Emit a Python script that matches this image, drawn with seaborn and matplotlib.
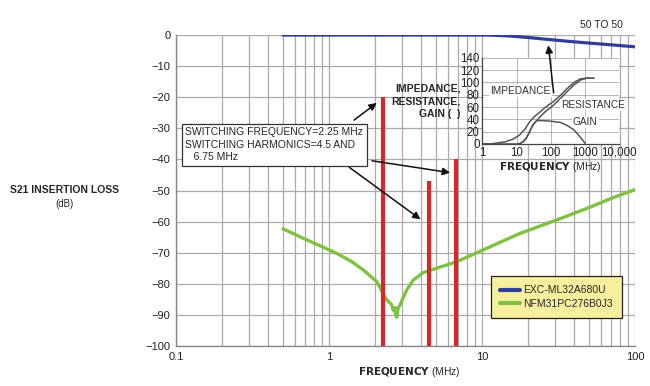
import numpy as np
import matplotlib
matplotlib.use("Agg")
import matplotlib.pyplot as plt
from matplotlib.ticker import LogLocator, FixedLocator, NullFormatter
import seaborn as sns

sns.set_style("white")
plt.rcParams['font.family'] = ['Liberation Sans', 'DejaVu Sans']

# main chart data (MHz, dB)
blue_f = [0.5, 1, 2, 5, 8, 11, 15, 20, 28, 40, 60, 80, 100]
blue_db = [0, 0, 0, 0, 0, 0, -0.3, -0.8, -1.5, -2.2, -2.9, -3.4, -3.8]

green_f = [0.5, 0.68, 0.85, 1.12, 1.4, 1.68, 2.05, 2.38, 2.55, 2.63, 2.7, 2.72,
           2.77, 2.82, 2.91, 3.05, 3.22, 3.55, 4.13, 5.05, 6.83, 10.7, 17.7,
           30.6, 50, 70, 100]
green_db = [-62.3, -65.4, -67.5, -70.2, -72.8, -75.6, -79.3, -85.2, -86.5, -88.5,
            -87.6, -89.8, -90.8, -88.0, -86.8, -84.5, -82.0, -78.8, -76.4, -75.0,
            -72.9, -68.6, -63.8, -59.5, -55.5, -52.5, -49.7]

sw_f = [2.25, 4.5, 6.75]
sw_top = [-20, -47, -40]

series_names = ["EXC-ML32A680U", "NFM31PC276B0J3"]

# inset data (MHz, ohm)
imp_f = [1, 2, 4.9, 8, 12.2, 18, 24, 34, 48, 70, 118, 190, 295, 470, 730, 1100, 1800]
imp_v = [0, 0.5, 3.8, 8, 14.6, 25, 36, 45, 52, 60, 69, 79, 90, 100, 106, 107, 107]
res_f = [1, 5, 10, 12.2, 15, 19, 24, 30, 48, 70, 118, 190, 295, 470, 730, 1100, 1800]
res_v = [0, 0, 0, 0.5, 3, 9, 20, 31, 44, 53, 63, 74, 85, 96, 104, 107, 107]
gain_f = [12.2, 15, 19, 24, 30, 38, 60, 100, 190, 300, 470, 700, 1000]
gain_v = [0.5, 3, 9, 20, 31, 38, 38, 37, 35, 30, 23, 12, 1]

blue = "#2f3f97"
green = "#7dc242"
red = "#d9262b"
grid_c = "#aaaaaa"

fig = plt.figure(figsize=(6.5, 3.86), dpi=100)
ax = fig.add_axes([0.2708, 0.1036, 0.7062, 0.8057])

sns.lineplot(x=blue_f, y=blue_db, ax=ax, color=blue, lw=2.3, label=series_names[0])
sns.lineplot(x=green_f, y=green_db, ax=ax, color=green, lw=2.4, label=series_names[1])
ax.vlines(sw_f, -100, sw_top, color=red, lw=3, zorder=3)

ax.set_xscale("log")
ax.set_xlim(0.1, 100)
ax.set_ylim(-100, 0)
ax.set_yticks(np.arange(-100, 1, 10))
ax.xaxis.set_major_locator(FixedLocator([0.1, 1, 10, 100]))
ax.set_xticklabels(["0.1", "1", "10", "100"])
ax.xaxis.set_minor_locator(LogLocator(base=10, subs=np.arange(2, 10)))
ax.xaxis.set_minor_formatter(NullFormatter())
ax.grid(True, which="both", color=grid_c, lw=0.9)
ax.tick_params(axis="both", which="both", length=0, labelsize=8, pad=4, colors="#222")
for s in ["top", "right"]:
    ax.spines[s].set_visible(False)
for s in ["left", "bottom"]:
    ax.spines[s].set_color("#888")
    ax.spines[s].set_linewidth(1)
ax.set_xlabel("")
ax.set_ylabel("")

fig.text(0.63, 0.035, r"$\bf{FREQUENCY}$ (MHz)", ha="center", va="center", fontsize=7.5)
fig.text(0.1, 0.508, "S21 INSERTION LOSS", ha="center", va="center", fontsize=7.5, weight="bold")
fig.text(0.1, 0.472, "(dB)", ha="center", va="center", fontsize=7)
fig.text(0.925, 0.935, "50 TO 50", ha="center", va="center", fontsize=7.5)

leg = ax.legend(loc="lower right", bbox_to_anchor=(0.983, 0.072), fontsize=7.5,
                frameon=True, fancybox=False, handlelength=1.9, borderpad=0.9,
                labelspacing=0.35, handletextpad=0.3)
leg.get_frame().set_facecolor("#f8ef9e")
leg.get_frame().set_edgecolor("#222")
leg.get_frame().set_alpha(1)
leg.get_frame().set_linewidth(0.9)
for line in leg.get_lines():
    line.set_linewidth(3)

ax.text(0.115, -35.3, "SWITCHING FREQUENCY=2.25 MHz\nSWITCHING HARMONICS=4.5 AND\n   6.75 MHz",
        ha="left", va="center", fontsize=7.5, linespacing=1.3, zorder=5,
        bbox=dict(boxstyle="square,pad=0.35", fc="white", ec="#333", lw=0.9))
arrow = dict(arrowstyle="-|>", color="#111", lw=1.1, mutation_scale=11)
ax.annotate("", xy=(2.12, -21.3), xytext=(1.41, -27.9), arrowprops=arrow, zorder=6)
ax.annotate("", xy=(6.45, -44.4), xytext=(1.83, -40.3), arrowprops=arrow, zorder=6)
ax.annotate("", xy=(4.1, -59.8), xytext=(1.31, -42.0), arrowprops=arrow, zorder=6)

fig.text(0.709, 0.738, "IMPEDANCE,\nRESISTANCE,\nGAIN (  )", ha="right", va="center",
         fontsize=7.5, weight="bold", linespacing=1.35)

# inset
ax_in = fig.add_axes([0.742, 0.627, 0.211, 0.223])
ax_in.set_facecolor("white")
sns.lineplot(x=imp_f, y=imp_v, ax=ax_in, color="#555", lw=1.1)
sns.lineplot(x=res_f, y=res_v, ax=ax_in, color="#555", lw=1.1)
sns.lineplot(x=gain_f, y=gain_v, ax=ax_in, color="#555", lw=1.1)
ax_in.set_xscale("log")
ax_in.set_xlim(1, 10000)
ax_in.set_ylim(0, 140)
ax_in.set_yticks(np.arange(0, 141, 20))
ax_in.xaxis.set_major_locator(FixedLocator([1, 10, 100, 1000, 10000]))
ax_in.set_xticklabels(["1", "10", "100", "1000", "10,000"])
ax_in.xaxis.set_minor_locator(LogLocator(base=10, subs=np.arange(1.0, 10.0, 0.5)))
ax_in.xaxis.set_minor_formatter(NullFormatter())
ax_in.grid(True, which="both", axis="x", color="#aaa", lw=0.6)
ax_in.grid(True, which="major", axis="y", color="#aaa", lw=0.6)
ax_in.tick_params(axis="both", which="both", length=0, labelsize=8.3, pad=2, colors="#222")
for s in ["top", "right"]:
    ax_in.spines[s].set_visible(False)
for s in ["left", "bottom"]:
    ax_in.spines[s].set_color("#444")
    ax_in.spines[s].set_linewidth(0.9)
ax_in.set_xlabel(r"$\bf{FREQUENCY}$ (MHz)", fontsize=7.5, labelpad=1)
ax_in.set_ylabel("")

lbl_box = dict(boxstyle="square,pad=0.1", fc="white", ec="none")
ax_in.text(12.9, 86, "IMPEDANCE", ha="center", va="center", fontsize=7.3, color="#333", bbox=lbl_box)
ax_in.text(1740, 63, "RESISTANCE", ha="center", va="center", fontsize=7.3, color="#333",
           bbox=lbl_box, clip_on=False)
ax_in.text(1000, 36, "GAIN", ha="center", va="center", fontsize=7.3, color="#333", bbox=lbl_box)

ax_in.annotate("", xy=(27, -2.4), xycoords=ax.transData, xytext=(29.5, -19.5),
               textcoords=ax.transData, arrowprops=dict(arrowstyle="-|>", color="#111",
               lw=1.1, mutation_scale=11), annotation_clip=False)

fig.savefig("out.png", dpi=100)
